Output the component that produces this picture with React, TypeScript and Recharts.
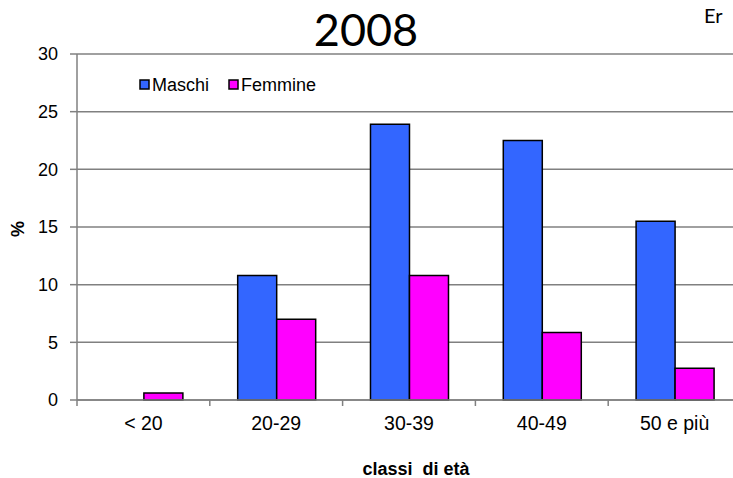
import { BarChart, Bar, XAxis, YAxis, CartesianGrid, Label } from 'recharts'

const categories = ['< 20', '20-29', '30-39', '40-49', '50 e più']
const maschi = [0, 10.8, 23.9, 22.5, 15.5]
const femmine = [0.6, 7.0, 10.8, 5.85, 2.75]
const yTicks = [0, 5, 10, 15, 20, 25, 30]

const seriesNames = ['Maschi', 'Femmine']
const seriesColors = ['#3366FF', '#FF00FF']

const chartData = categories.map((c, i) => ({
  classe: c,
  Maschi: maschi[i],
  Femmine: femmine[i],
}))

const FONT = '"Liberation Sans", Arial, sans-serif'
const TITLE_FONT = 'Lato, "Open Sans", sans-serif'
const GRID = '#808080'

function CategoryTick(props: any) {
  const { x, y, payload } = props
  const half = payload.offset ?? 0
  return (
    <g>
      <line x1={x - half} x2={x - half} y1={y} y2={y + 6} stroke={GRID} strokeWidth={1.5} />
      <text x={x} y={y + 30} textAnchor="middle" fontSize={19.5} fontFamily={FONT} fill="#000">
        {payload.value}
      </text>
    </g>
  )
}

// legend item x positions (square left edge)
const legendX = [140, 229]

export default function App() {
  return (
    <div
      style={{
        position: 'fixed',
        left: 0,
        top: 0,
        width: 733,
        height: 478,
        overflow: 'hidden',
        background: '#fff',
      }}
    >
      <BarChart
        width={741}
        height={478}
        data={chartData}
        margin={{ top: 54, right: 0, bottom: 0, left: 0 }}
        barCategoryGap="21%"
        barGap={0}
      >
        <CartesianGrid vertical={false} stroke={GRID} strokeWidth={1.5} />
        <XAxis
          dataKey="classe"
          height={78}
          tickSize={0}
          tickMargin={0}
          tickLine={false}
          axisLine={{ stroke: GRID, strokeWidth: 1.5 }}
          tick={<CategoryTick />}
          interval={0}
        >
          <Label
            content={() => (
              <text x={416} y={475} textAnchor="middle" fontSize={18} fontWeight="bold" fontFamily={FONT} fill="#000">
                {'classi\u00a0 di età'}
              </text>
            )}
          />
        </XAxis>
        <YAxis
          width={77}
          domain={[0, 30]}
          ticks={yTicks}
          interval={0}
          tickSize={7}
          tickMargin={12}
          axisLine={{ stroke: GRID, strokeWidth: 1.5 }}
          tickLine={{ stroke: GRID, strokeWidth: 1.5 }}
          tick={{ fill: '#000', fontSize: 18, fontFamily: FONT }}
        >
          <Label
            content={(p: any) => {
              const vb = p.viewBox || { y: 54, height: 346 }
              const cy = vb.y + vb.height / 2 + 2
              return (
                <text
                  x={18}
                  y={cy}
                  transform={`rotate(-90 18 ${cy})`}
                  textAnchor="middle"
                  dominantBaseline="central"
                  fontSize={18}
                  fontWeight="bold"
                  fontFamily={FONT}
                  fill="#000"
                >
                  %
                </text>
              )
            }}
          />
        </YAxis>
        {seriesNames.map((name, i) => (
          <Bar
            key={name}
            dataKey={name}
            fill={seriesColors[i]}
            stroke="#000"
            strokeWidth={1.5}
            isAnimationActive={false}
          />
        ))}
      </BarChart>

      <svg
        width={733}
        height={478}
        style={{ position: 'absolute', left: 0, top: 0, pointerEvents: 'none' }}
      >
        <text x={366} y={46} textAnchor="middle" fontFamily={TITLE_FONT} fontSize={45} fill="#000">
          2008
        </text>
        <text x={704} y={23} fontFamily={TITLE_FONT} fontSize={20} fill="#000">
          Er
        </text>
        {seriesNames.map((name, i) => (
          <g key={name}>
            <rect
              x={legendX[i]}
              y={80}
              width={9}
              height={9}
              fill={seriesColors[i]}
              stroke="#000"
              strokeWidth={1.5}
            />
            <text x={legendX[i] + 12} y={91} fontFamily={FONT} fontSize={18} fill="#000">
              {name}
            </text>
          </g>
        ))}
      </svg>
    </div>
  )
}
